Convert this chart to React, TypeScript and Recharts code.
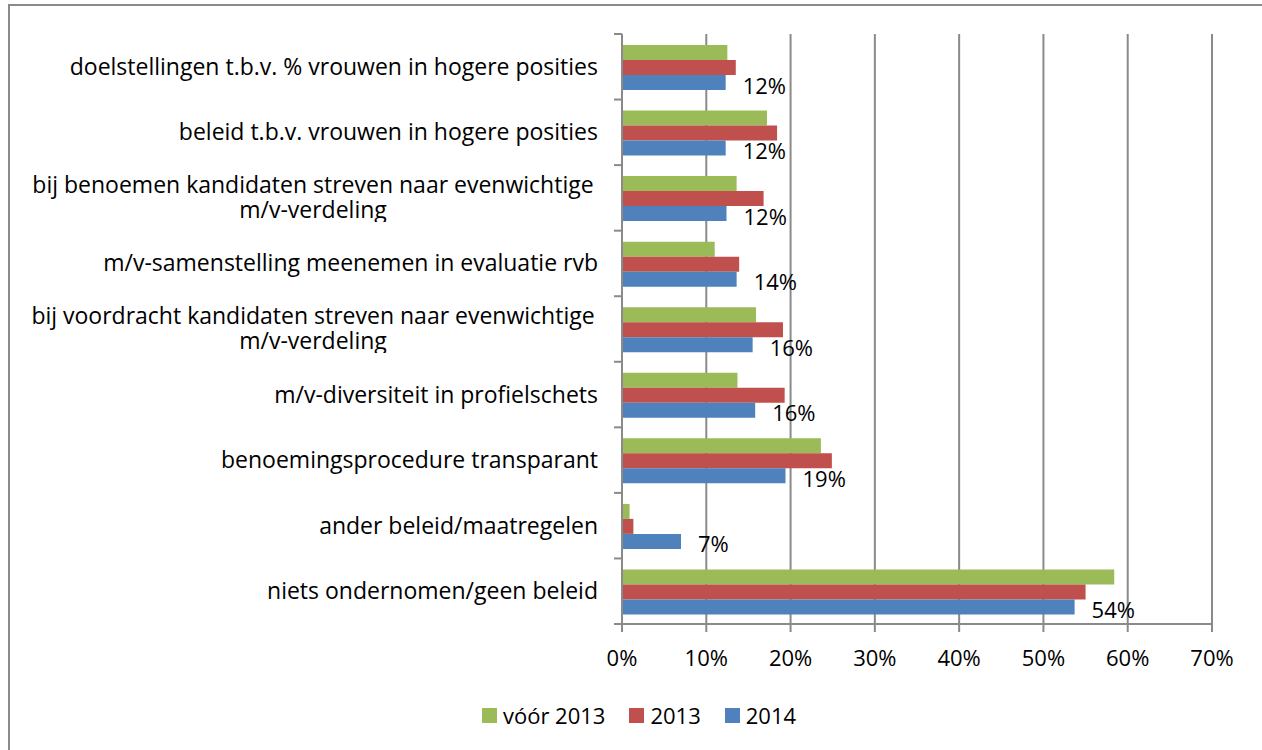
import React from 'react';
import { BarChart, Bar, XAxis, YAxis, CartesianGrid, Legend, LabelList } from 'recharts';

const categories = [
  'doelstellingen t.b.v. % vrouwen in hogere posities',
  'beleid t.b.v. vrouwen in hogere posities',
  'bij benoemen kandidaten streven naar evenwichtige\nm/v-verdeling',
  'm/v-samenstelling meenemen in evaluatie rvb',
  'bij voordracht kandidaten streven naar evenwichtige\nm/v-verdeling',
  'm/v-diversiteit in profielschets',
  'benoemingsprocedure transparant',
  'ander beleid/maatregelen',
  'niets ondernomen/geen beleid',
];
const voor2013 = [12.5, 17.2, 13.6, 11.0, 15.9, 13.7, 23.6, 0.9, 58.4];
const jaar2013 = [13.5, 18.4, 16.8, 13.9, 19.1, 19.3, 24.9, 1.35, 55.0];
const jaar2014 = [12.3, 12.3, 12.4, 13.6, 15.5, 15.8, 19.4, 7.0, 53.7];
const xTicks = [0, 10, 20, 30, 40, 50, 60, 70];

const seriesNames = ['vóór 2013', '2013', '2014'];
const colors = ['#9BBB59', '#C0504D', '#4F81BD'];

const data = categories.map((c, i) => ({
  name: c,
  v0: voor2013[i],
  v1: jaar2013[i],
  v2: jaar2014[i],
}));

const FONT = '"Open Sans", Lato, sans-serif';
const FS = 22;
const CAT_FS = 23;
const GRAY = '#8a8a8a';
const AXIS_X = 622;
const PLOT_TOP = 34;
const PLOT_H = 590;
const BAND = PLOT_H / categories.length;

function CategoryTick(props: any) {
  const { y, payload, index } = props;
  const label = String(payload.value);
  const multi = label.includes('\n');
  const textX = AXIS_X - 24;
  const cx = textX - 285;
  return (
    <g>
      <line x1={AXIS_X - 8} x2={AXIS_X} y1={y - BAND / 2} y2={y - BAND / 2} stroke={GRAY} strokeWidth={2} />
      {index === categories.length - 1 && (
        <line x1={AXIS_X - 8} x2={AXIS_X} y1={y + BAND / 2} y2={y + BAND / 2} stroke={GRAY} strokeWidth={2} />
      )}
      {multi ? (
        <foreignObject x={cx - 300} y={y - 26} width={600} height={50}>
          <div
            style={{
              whiteSpace: 'pre-line',
              textAlign: 'center',
              lineHeight: '25px',
              fontSize: CAT_FS,
              fontFamily: FONT,
              color: '#000',
            }}
          >
            {label}
          </div>
        </foreignObject>
      ) : (
        <text x={textX} y={y - 1} textAnchor="end" dominantBaseline="central" fontSize={CAT_FS} fill="#000" fontFamily={FONT}>
          {label}
        </text>
      )}
    </g>
  );
}

function ValueLabel(props: any) {
  const { x, y, width, height, value } = props;
  return (
    <text
      x={x + width + 17}
      y={y + height / 2 + 2}
      textAnchor="start"
      dominantBaseline="central"
      fontSize={FS}
      fill="#000"
      fontFamily={FONT}
    >
      {Math.round(value)}%
    </text>
  );
}

function LegendContent() {
  return (
    <div style={{ height: 56, boxSizing: 'border-box', paddingTop: 31, paddingLeft: 66, display: 'flex', justifyContent: 'center', fontFamily: FONT, fontSize: FS }}>
      {seriesNames.map((n, i) => (
        <div key={n} style={{ display: 'flex', alignItems: 'center', marginRight: i < 2 ? 24 : 0, height: 20 }}>
          <span style={{ width: 15, height: 15, background: colors[i], marginRight: 6, display: 'inline-block' }} />
          <span style={{ lineHeight: '20px' }}>{n}</span>
        </div>
      ))}
    </div>
  );
}

export default function App() {
  return (
    <div style={{ position: 'absolute', left: 0, top: 0, width: 1262, height: 750, overflow: 'hidden', background: '#fff' }}>
      <div style={{ position: 'absolute', left: 8, top: 4, width: 1300, height: 800, border: `2px solid ${GRAY}` }} />
      <div style={{ position: 'absolute', left: 0, top: 0 }}>
        <BarChart
          width={1262}
          height={750}
          data={data}
          layout="vertical"
          margin={{ top: PLOT_TOP, right: 50, left: 0, bottom: 20 }}
          barCategoryGap={11}
          barGap={0}
        >
          <CartesianGrid horizontal={false} stroke={GRAY} strokeWidth={2} />
          <XAxis
            type="number"
            domain={[0, 70]}
            ticks={xTicks}
            tickFormatter={(v: number) => `${v}%`}
            height={50}
            tickSize={8}
            tickMargin={18}
            axisLine={{ stroke: GRAY, strokeWidth: 2 }}
            tickLine={{ stroke: GRAY, strokeWidth: 2 }}
            tick={{ fill: '#000', fontSize: FS, fontFamily: FONT }}
          />
          <YAxis
            type="category"
            dataKey="name"
            width={AXIS_X}
            tickLine={false}
            axisLine={{ stroke: GRAY, strokeWidth: 2 }}
            tick={<CategoryTick />}
            interval={0}
          />
          <Legend verticalAlign="bottom" content={<LegendContent />} />
          <Bar dataKey="v0" name={seriesNames[0]} fill={colors[0]} isAnimationActive={false} />
          <Bar dataKey="v1" name={seriesNames[1]} fill={colors[1]} isAnimationActive={false} />
          <Bar dataKey="v2" name={seriesNames[2]} fill={colors[2]} isAnimationActive={false}>
            <LabelList dataKey="v2" content={<ValueLabel />} />
          </Bar>
        </BarChart>
      </div>
    </div>
  );
}
